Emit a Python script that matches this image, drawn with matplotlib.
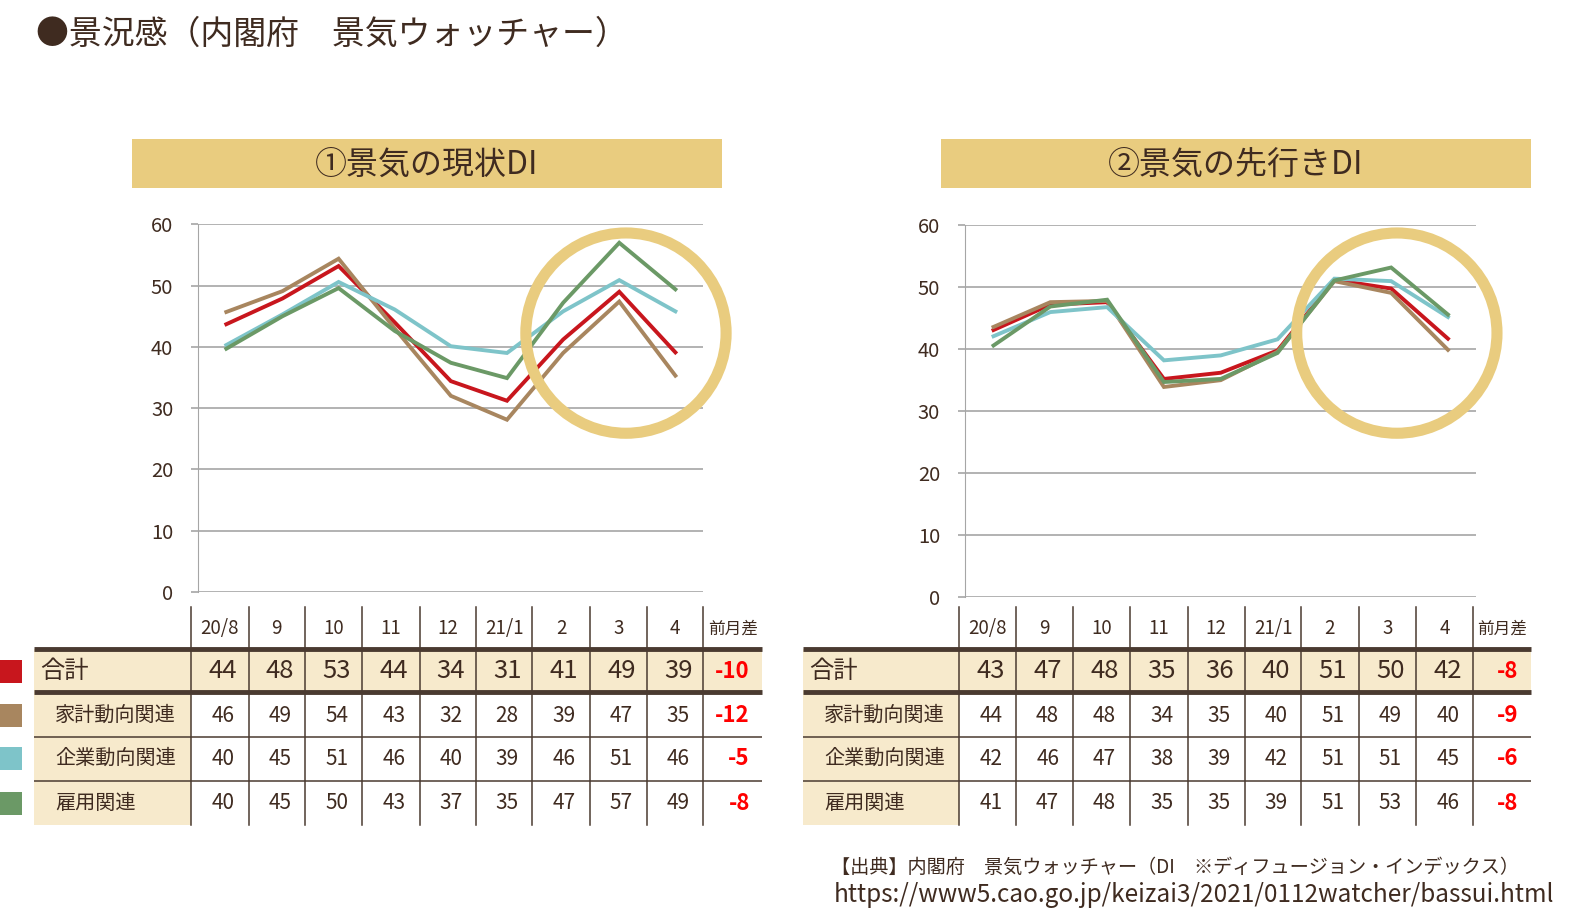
import matplotlib.pyplot as plt
from matplotlib.patches import Rectangle, Ellipse
import numpy as np

plt.rcParams['font.family'] = ['Noto Sans CJK JP', 'DejaVu Sans']

months = ['20/8', '9', '10', '11', '12', '21/1', '2', '3', '4']
series_names = ['合計', '家計動向関連', '企業動向関連', '雇用関連']
colors = ['#C8161D', '#A8865F', '#7EC4C9', '#6B9966']

# ① 景気の現状DI
now_total = [43.7, 47.9, 53.2, 44.0, 34.4, 31.2, 41.2, 49.0, 39.1]
now_house = [45.7, 49.1, 54.4, 43.0, 32.0, 28.1, 39.0, 47.4, 35.3]
now_corp = [40.3, 45.3, 50.6, 46.1, 40.1, 39.0, 45.8, 50.9, 45.8]
now_employ = [39.7, 45.0, 49.6, 42.6, 37.4, 34.9, 47.2, 57.0, 49.4]

# ② 景気の先行きDI
fut_total = [43.1, 47.2, 47.6, 35.2, 36.2, 39.8, 51.2, 49.8, 41.7]
fut_house = [43.6, 47.6, 47.8, 33.9, 35.0, 39.6, 51.0, 49.1, 39.9]
fut_corp = [42.1, 46.0, 46.8, 38.2, 39.0, 41.6, 51.4, 51.0, 45.2]
fut_employ = [40.6, 46.9, 48.0, 34.7, 35.2, 39.4, 51.1, 53.2, 45.6]

TXT = '#3F2B20'
RULE = '#4A3A30'
GOLD = '#E9CC7F'
BEIGE = '#F7EACC'
GRID = '#A6A6A6'

# layout was measured on the 1568 px wide view
S = 1578 / 1568
W, H = 1578, 923

fig = plt.figure(figsize=(15.78, 9.23), dpi=100)


def add_chart(x0, x1, ytop, ybot, series):
    ax = fig.add_axes([x0 * S / W, 1 - ybot * S / H,
                       (x1 - x0) * S / W, (ybot - ytop) * S / H])
    x = np.arange(len(months))
    for vals, c in zip(series, colors):
        ax.plot(x, vals, color=c, lw=2.8, solid_joinstyle='miter')
    ax.set_xlim(-0.5, len(months) - 0.5)
    ax.set_ylim(0, 60)
    ax.set_yticks(range(0, 61, 10))
    ax.set_xticks([])
    ax.grid(axis='y', color=GRID, lw=1.2)
    ax.set_axisbelow(True)
    for s in ['top', 'right', 'bottom']:
        ax.spines[s].set_visible(False)
    ax.spines['left'].set_color(GRID)
    ax.tick_params(axis='y', length=5, color=GRID, width=1.2,
                   labelsize=14.5, labelcolor=TXT, pad=13)
    ax.patch.set_alpha(0)
    return ax


add_chart(197, 699, 223, 588, [now_total, now_house, now_corp, now_employ])
add_chart(959, 1467, 224, 593, [fut_total, fut_house, fut_corp, fut_employ])

# overlay in (shown) pixel coordinates for title, boxes, tables
ov = fig.add_axes([0, 0, 1, 1], zorder=5)
ov.set_xlim(0, W / S)
ov.set_ylim(H / S, 0)
ov.axis('off')
ov.patch.set_alpha(0)

ov.text(36, 35, '●景況感（内閣府　景気ウォッチャー）', fontsize=23.7,
        color=TXT, va='center', ha='left')

for bx, title in [(131, '①景気の現状DI'), (935, '②景気の先行きDI')]:
    ov.add_patch(Rectangle((bx, 138), 586, 49, fc=GOLD, ec='none'))
    ov.text(bx + 293, 164, title, fontsize=23, color=TXT, ha='center', va='center')

for cx in [622, 1388]:
    ov.add_patch(Ellipse((cx, 331), 199, 199, fill=False, ec=GOLD, lw=8))

row_y = [667, 711, 754, 798]


def draw_table(lx, edges, series, legend):
    top, t1, t2, l3, l4, bot = 603, 645, 688, 732, 776, 820
    ov.add_patch(Rectangle((lx, t1), edges[0] - lx, bot - t1, fc=BEIGE, ec='none'))
    ov.add_patch(Rectangle((lx, t1), edges[-1] - lx, t2 - t1, fc=BEIGE, ec='none'))
    for e in edges[:-1]:
        ov.plot([e, e], [top, bot], color=RULE, lw=1.1)
    for yy, lw in [(t1, 3.5), (t2, 3.5), (l3, 1.1), (l4, 1.1)]:
        ov.plot([lx, edges[-1]], [yy, yy], color=RULE, lw=lw, solid_capstyle='butt')
    for i, m in enumerate(months):
        ov.text((edges[i] + edges[i + 1]) / 2, 625, m, fontsize=13.5,
                color=TXT, ha='center', va='center')
    ov.text((edges[-2] + edges[-1]) / 2, 625, '前月差', fontsize=12,
            color=TXT, ha='center', va='center')
    for r, (name, vals) in enumerate(zip(series_names, series)):
        ints = np.round(vals).astype(int)
        diff = int(np.round(vals[-1] - vals[-2]))
        yc = row_y[r]
        big = r == 0
        ov.text(lx + (6 if big else 21), yc, name, fontsize=17.5 if big else 14.5,
                color=TXT, ha='left', va='center')
        for i, v in enumerate(ints):
            ov.text((edges[i] + edges[i + 1]) / 2 + 3, yc, str(v),
                    fontsize=18.5 if big else 15, color=TXT, ha='center', va='center')
        ov.text(edges[-1] - 12, yc, str(diff), fontsize=16,
                color='#FF0000', fontweight='bold', ha='right', va='center')
        if legend:
            ov.add_patch(Rectangle((0, yc - 11.5), 22, 23, fc=colors[r], ec='none'))


draw_table(34, [190, 247, 303, 360, 417, 473, 529, 586, 643, 699, 757],
           [now_total, now_house, now_corp, now_employ], True)
draw_table(798, [953, 1010, 1066, 1123, 1180, 1237, 1293, 1350, 1407, 1464, 1521],
           [fut_total, fut_house, fut_corp, fut_employ], False)

ov.text(826, 862, '【出典】内閣府　景気ウォッチャー（DI　※ディフュージョン・インデックス）',
        fontsize=13.8, color=TXT, ha='left', va='center')
ov.text(828, 889, 'https://www5.cao.go.jp/keizai3/2021/0112watcher/bassui.html',
        fontsize=17.5, color=TXT, ha='left', va='center')

fig.savefig('out.png', dpi=100)
